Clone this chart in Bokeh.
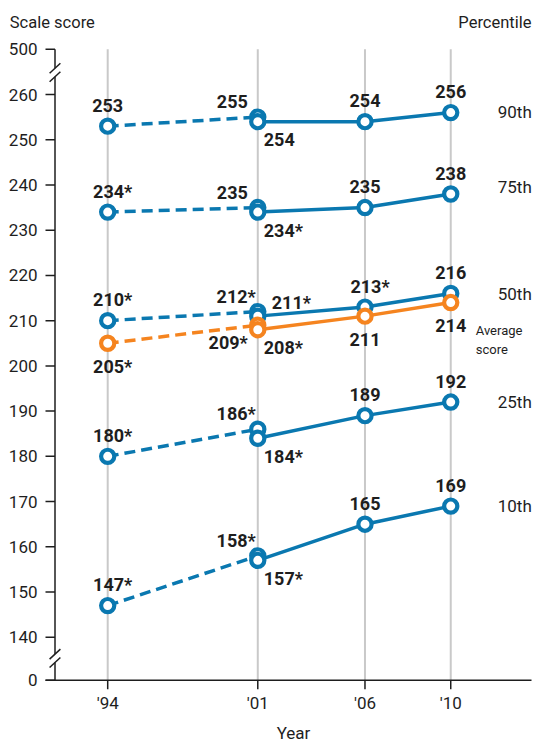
from bokeh.plotting import figure
from bokeh.models import ColumnDataSource
from bokeh.core.properties import value
from bokeh.embed import file_html
from bokeh.resources import INLINE

FONT = "Roboto"
INK = "#1e1e1e"
BLUE = "#0a78b0"
ORANGE = "#f5841f"
GRID = "#c9c9c9"

# ---------------- data ----------------
year_values = [1994, 2001, 2006, 2010]
year_labels = ["'94", "'01", "'06", "'10"]
na_years = [1994, 2001]          # accommodations not permitted (dashed)
acc_years = [2001, 2006, 2010]   # accommodations permitted (solid)

series_names = ["90th", "75th", "50th", "25th", "10th"]
p90_na = [253, 255]
p90_acc = [254, 254, 256]
p75_na = [234, 235]
p75_acc = [234, 235, 238]
p50_na = [210, 212]
p50_acc = [211, 213, 216]
p25_na = [180, 186]
p25_acc = [184, 189, 192]
p10_na = [147, 158]
p10_acc = [157, 165, 169]
avg_na = [205, 209]
avg_acc = [208, 211, 214]

# significantly different from 2010 (*)
p90_na_sig = [False, False]
p90_acc_sig = [False, False, False]
p75_na_sig = [True, False]
p75_acc_sig = [True, False, False]
p50_na_sig = [True, True]
p50_acc_sig = [True, True, False]
p25_na_sig = [True, True]
p25_acc_sig = [True, False, False]
p10_na_sig = [True, True]
p10_acc_sig = [True, False, False]
avg_na_sig = [True, True]
avg_acc_sig = [True, False, False]

ytick_scores = [0, 140, 150, 160, 170, 180, 190, 200, 210, 220, 230, 240, 250, 260, 500]
avg_label = ["Average", "score"]
y_title = "Scale score"
x_title = "Year"
right_title = "Percentile"

# ---------------- layout helpers (page pixels) ----------------
PX_YEAR = 21.44      # px per year
X94 = 107.2          # px of 1994
PX_UNIT = 4.523      # px per score point
Y260 = 94.0          # px of 260

def xd(px):
    return 1994 + (px - X94) / PX_YEAR

def yd(py):
    return 260 - (py - Y260) / PX_UNIT

Y_ZERO = 130.5   # position of the broken-axis "0"
Y_TOP = 270.0    # position of the broken-axis "500"

def ypos(v):
    if v == 0:
        return Y_ZERO
    if v == 500:
        return Y_TOP
    return v

W, H = 535, 742
p = figure(width=W, height=H, x_range=(xd(0), xd(W)), y_range=(yd(H), yd(0)),
           min_border=0, min_border_left=0, min_border_right=0,
           min_border_top=0, min_border_bottom=0,
           output_backend="svg", toolbar_location=None, title=None)
p.xaxis.visible = False
p.yaxis.visible = False
p.outline_line_color = None
p.xgrid.visible = False
p.ygrid.visible = False
p.background_fill_color = "white"
p.border_fill_color = "white"

def txt(xs, ys, ts, align="center", size="16.5px", bold=False, dx=None, dy=None, baseline="middle"):
    n = len(xs)
    src = ColumnDataSource(dict(x=list(xs), y=list(ys), t=list(ts),
                                dx=list(dx) if dx is not None else [0] * n,
                                dy=list(dy) if dy is not None else [0] * n))
    p.text(x="x", y="y", text="t", x_offset="dx", y_offset="dy", source=src,
           text_align=align, text_baseline=baseline, text_font=value(FONT),
           text_font_style="bold" if bold else "normal", text_font_size=size,
           text_color=INK)

# vertical gridlines
n = len(year_values)
p.segment(x0=year_values, y0=[ypos(0)] * n, x1=year_values, y1=[ypos(500)] * n,
          line_color=GRID, line_width=2)

# ---- y axis (broken) ----
AXP = 54.5
AX = xd(AXP)
top_break = (67.7, 76.2)
bot_break = (653.6, 662.0)
p.segment(x0=[AX] * 3, x1=[AX] * 3,
          y0=[ypos(500), yd(top_break[1]), yd(bot_break[1])],
          y1=[yd(top_break[0]), yd(bot_break[0]), ypos(0)],
          line_color=INK, line_width=1.5)
slash_c = list(top_break) + list(bot_break)
dxs, dys = 5.4, 5.0
p.segment(x0=[xd(AXP - dxs)] * 4, x1=[xd(AXP + dxs)] * 4,
          y0=[yd(c + dys) for c in slash_c], y1=[yd(c - dys) for c in slash_c],
          line_color=INK, line_width=1.5)
ny = len(ytick_scores)
ytick_pos = [ypos(v) for v in ytick_scores]
p.segment(x0=[xd(45)] * ny, x1=[AX] * ny, y0=ytick_pos, y1=ytick_pos,
          line_color=INK, line_width=1.5)
txt([xd(37)] * ny, ytick_pos, [str(v) for v in ytick_scores], align="right", size="17px")

# ---- x axis ----
p.segment(x0=[xd(45)], x1=[xd(531)], y0=[ypos(0)], y1=[ypos(0)], line_color=INK, line_width=1.5)
p.segment(x0=year_values, x1=year_values, y0=[ypos(0)] * n, y1=[ypos(0) - 9 / PX_UNIT] * n,
          line_color=INK, line_width=1.5)
txt(year_values, [ypos(0)] * n, year_labels, align="center", size="17px", dy=[23] * n)

# titles
txt([xd(9.3)], [yd(21.5)], [y_title], align="left", size="16.5px")
txt([xd(531)], [yd(21.5)], [right_title], align="right", size="16.5px")
txt([xd(293)], [yd(732)], [x_title], align="center", size="17px")

# label placement rules (pixel offsets)
def place(code, star):
    if code == "above":
        return (5 if star else 0), -21, "center"
    if code == "below":
        return (5 if star else 0), 23, "center"
    if code == "upleft":
        return (-10 + (8 if star else 0)), -15.5, "right"
    if code == "downleft":
        return -10, 17, "right"
    if code == "downright":
        return 6, 18, "left"
    if code == "right":
        return 14, -14, "left"

series = [
    (p90_na, p90_acc, p90_na_sig, p90_acc_sig, BLUE, ["above", "upleft"], ["downright", "above", "above"]),
    (p75_na, p75_acc, p75_na_sig, p75_acc_sig, BLUE, ["above", "upleft"], ["downright", "above", "above"]),
    (p50_na, p50_acc, p50_na_sig, p50_acc_sig, BLUE, ["above", "upleft"], ["right", "above", "above"]),
    (p25_na, p25_acc, p25_na_sig, p25_acc_sig, BLUE, ["above", "upleft"], ["downright", "above", "above"]),
    (p10_na, p10_acc, p10_na_sig, p10_acc_sig, BLUE, ["above", "upleft"], ["downright", "above", "above"]),
    (avg_na, avg_acc, avg_na_sig, avg_acc_sig, ORANGE, ["below", "downleft"], ["downright", "below", "below"]),
]

labels = {"left": dict(x=[], y=[], t=[], dx=[], dy=[]),
          "center": dict(x=[], y=[], t=[], dx=[], dy=[]),
          "right": dict(x=[], y=[], t=[], dx=[], dy=[])}

for na_v, acc_v, na_s, acc_s, col, na_codes, acc_codes in series:
    p.line(na_years, na_v, line_color=col, line_width=3.5, line_dash="11 6")
    p.line(acc_years, acc_v, line_color=col, line_width=3.5)
    p.scatter(na_years, na_v, size=13.2, fill_color="white", line_color=col, line_width=4.2)
    p.scatter(acc_years, acc_v, size=13.2, fill_color="white", line_color=col, line_width=4.2)
    for yrs, vals, sigs, codes in ((na_years, na_v, na_s, na_codes), (acc_years, acc_v, acc_s, acc_codes)):
        for yr, v, s, c in zip(yrs, vals, sigs, codes):
            dx, dy, al = place(c, s)
            d = labels[al]
            d["x"].append(yr)
            d["y"].append(v)
            d["t"].append(f"{v}*" if s else f"{v}")
            d["dx"].append(dx)
            d["dy"].append(dy)

for al, d in labels.items():
    if d["x"]:
        txt(d["x"], d["y"], d["t"], align=al, size="18px", bold=True, dx=d["dx"], dy=d["dy"])

# percentile names at right
last_vals = [p90_acc[-1], p75_acc[-1], p50_acc[-1], p25_acc[-1], p10_acc[-1]]
name_dy = [-1, -7, 0, 0, 0]
txt([acc_years[-1]] * 5, last_vals, series_names, align="left", size="17px",
    dx=[47] * 5, dy=name_dy)

txt([acc_years[-1]] * 2, [avg_acc[-1]] * 2, avg_label, align="left", size="13px",
    dx=[25, 25], dy=[28, 47])

open("out.html", "w").write(file_html(p, INLINE))
